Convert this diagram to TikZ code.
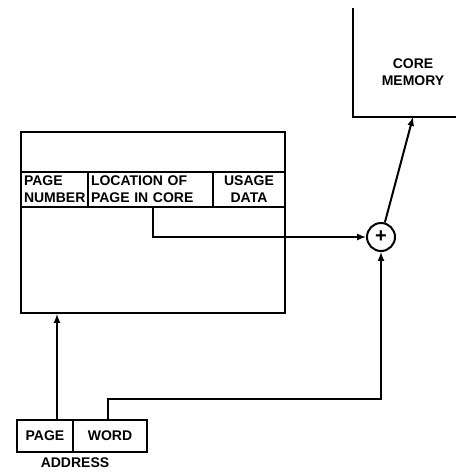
\documentclass[tikz,border=0pt]{standalone}
\usepackage{fontspec}
\setmainfont{Liberation Sans}
\begin{document}
\begin{tikzpicture}[x=1pt, y=-1pt, line width=2pt, >=latex,
        every node/.style={font=\bfseries\fontsize{14}{17}\selectfont, inner sep=0pt},
        cell/.style={draw, minimum height=35pt, inner xsep=3pt, align=left},
        field/.style={draw, minimum height=32pt}]
        \useasboundingbox (0,0) rectangle (462,472);
        \node[draw, minimum width=264pt, minimum height=181pt] (tbl) at (153,222.5) {};
        \node[cell, text width=61pt] (num) at (54.5,189.5) {PAGE\\NUMBER};
        \node[cell, text width=119pt] (loc) at (150.5,189.5) {LOCATION OF\\PAGE IN CORE};
        \node[cell, text width=66pt, align=center] (use) at (249,189.5) {USAGE\\DATA};
        \draw (353,8) -- (353,117) -- (456,117);
        \node[align=center] (mem) at (413,72) {CORE\\MEMORY};
        \coordinate (memin) at (413,117);
        \node[circle, draw, minimum size=28pt, font=\bfseries\fontsize{20}{20}\selectfont] (add) at (381,237) {+};
        \node[field, minimum width=56pt] (page) at (45,436) {PAGE};
        \node[field, minimum width=74pt] (word) at (110,436) {WORD};
        \node (addr) at (75,463) {ADDRESS};
        \draw[->] ([xshift=12pt]page.north) -- ([xshift=12pt]page.north |- tbl.south);
        \draw[->] ([xshift=-2pt]word.north) -- ++(0,-20) -| (add.south);
        \draw[->] ([xshift=2.5pt]loc.south) |- (add.west);
        \draw[->] (add) -- (memin);
\end{tikzpicture}
\end{document}
